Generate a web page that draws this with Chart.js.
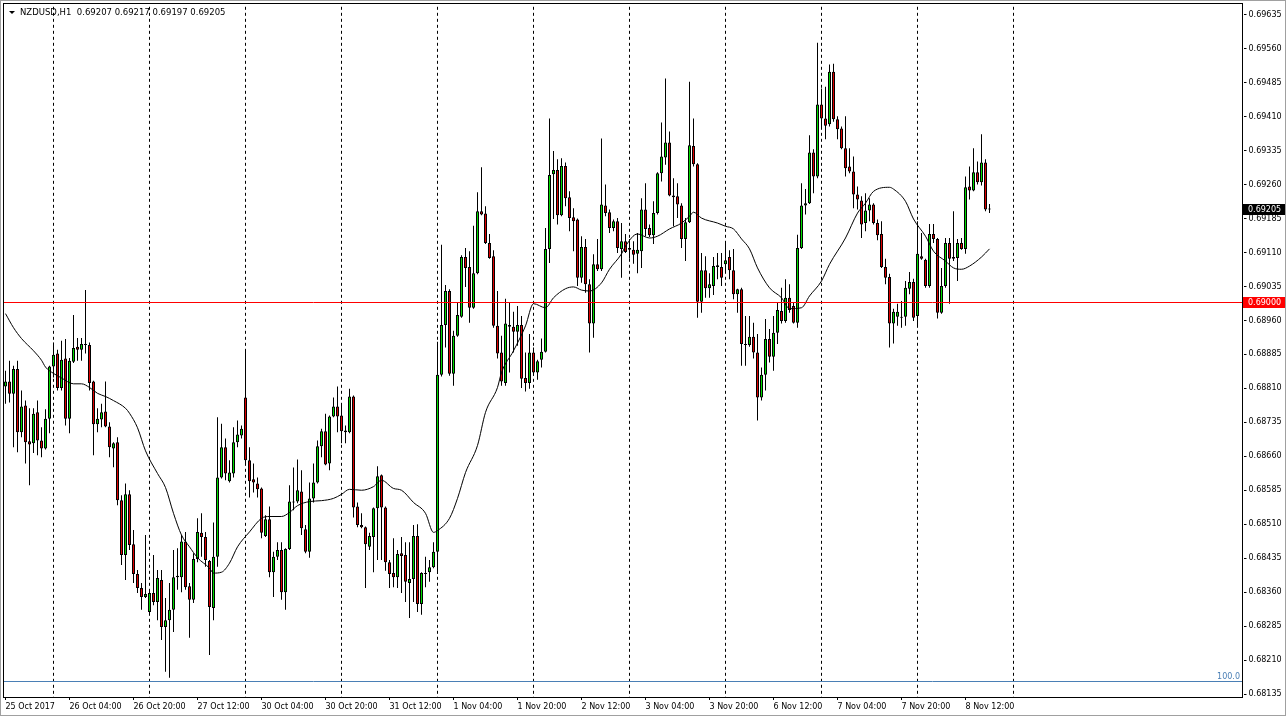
<!DOCTYPE html>
<html>
<head>
<meta charset="utf-8">
<title>NZDUSD,H1</title>
<script src="https://cdn.jsdelivr.net/npm/chart.js@4.4.1/dist/chart.umd.min.js"></script>
<style>
  html, body { margin: 0; padding: 0; background: #fff; }
  #wrap { width: 1287px; height: 720px; position: relative; }
</style>
</head>
<body>
<div id="wrap"><canvas id="chart" width="1287" height="720"></canvas></div>
<script>
// NZDUSD H1 candles, 25 Oct 2017 12:00 .. 8 Nov 2017 ~18:00

const symbol = 'NZDUSD,H1';
const sessionDays = ['25 Oct', '26 Oct', '27 Oct', '30 Oct', '31 Oct', '1 Nov', '2 Nov', '3 Nov',
  '6 Nov', '7 Nov', '8 Nov', '9 Nov', '10 Nov', '13 Nov'];
const firstHour = 12;
const slotCount = 310;
const lastSeparator = '9 Nov 00:00';
const firstDateLabel = '25 Oct 2017';
const xTickLabels = ['26 Oct 04:00', '26 Oct 20:00', '27 Oct 12:00', '30 Oct 04:00', '30 Oct 20:00',
  '31 Oct 12:00', '1 Nov 04:00', '1 Nov 20:00', '2 Nov 12:00', '3 Nov 04:00', '3 Nov 20:00',
  '6 Nov 12:00', '7 Nov 04:00', '7 Nov 20:00', '8 Nov 12:00'];
const yTicks = [0.69635, 0.69560, 0.69485, 0.69410, 0.69335, 0.69260, 0.69185, 0.69110, 0.69035,
  0.68960, 0.68885, 0.68810, 0.68735, 0.68660, 0.68585, 0.68510, 0.68435, 0.68360, 0.68285,
  0.68210, 0.68135];

const openP = [
  0.68814, 0.68825, 0.68798, 0.68853, 0.68713, 0.68772, 0.68693, 0.68689, 0.68757, 0.68695,
  0.68677, 0.68743, 0.68858, 0.68887, 0.68811, 0.68876, 0.68743, 0.68869, 0.68902, 0.68895,
  0.68908, 0.68906, 0.68825, 0.68731, 0.68741, 0.68759, 0.68726, 0.68677, 0.68691, 0.68563,
  0.68442, 0.68576, 0.68466, 0.68400, 0.68369, 0.68349, 0.68316, 0.68358, 0.68338, 0.68387,
  0.68283, 0.68298, 0.68321, 0.68393, 0.68393, 0.68472, 0.68373, 0.68343, 0.68433, 0.68491,
  0.68482, 0.68429, 0.68325, 0.68438, 0.68613, 0.68680, 0.68605, 0.68622, 0.68691, 0.68706,
  0.68790, 0.68651, 0.68609, 0.68600, 0.68589, 0.68484, 0.68521, 0.68404, 0.68438, 0.68453,
  0.68360, 0.68455, 0.68560, 0.68560, 0.68582, 0.68499, 0.68449, 0.68567, 0.68602, 0.68682,
  0.68715, 0.68644, 0.68748, 0.68770, 0.68750, 0.68717, 0.68713, 0.68792, 0.68549, 0.68508,
  0.68503, 0.68460, 0.68482, 0.68545, 0.68618, 0.68547, 0.68426, 0.68402, 0.68393, 0.68446,
  0.68442, 0.68380, 0.68389, 0.68484, 0.68334, 0.68402, 0.68404, 0.68415, 0.68449, 0.68840,
  0.68950, 0.69025, 0.68842, 0.68926, 0.68968, 0.69100, 0.69078, 0.68988, 0.69064, 0.69201,
  0.69196, 0.69131, 0.69102, 0.68948, 0.68889, 0.68822, 0.68950, 0.68946, 0.68935, 0.68950,
  0.68833, 0.68822, 0.68889, 0.68845, 0.68873, 0.68891, 0.69118, 0.69283, 0.69292, 0.69192,
  0.69301, 0.69232, 0.69188, 0.69183, 0.69054, 0.69122, 0.69040, 0.68953, 0.69084, 0.69073,
  0.69214, 0.69199, 0.69164, 0.69179, 0.69118, 0.69135, 0.69120, 0.69116, 0.69107, 0.69113,
  0.69205, 0.69164, 0.69148, 0.69197, 0.69285, 0.69320, 0.69353, 0.69236, 0.69234, 0.69214,
  0.69140, 0.69177, 0.69345, 0.69305, 0.69001, 0.69071, 0.69031, 0.69036, 0.69082, 0.69078,
  0.69084, 0.69100, 0.69071, 0.69018, 0.69029, 0.68908, 0.68906, 0.68924, 0.68889, 0.68790,
  0.68840, 0.68919, 0.68880, 0.68933, 0.68981, 0.68959, 0.69010, 0.68992, 0.68955, 0.69120,
  0.69214, 0.69219, 0.69331, 0.69278, 0.69437, 0.69406, 0.69393, 0.69509, 0.69404, 0.69384,
  0.69340, 0.69300, 0.69289, 0.69238, 0.69225, 0.69175, 0.69203, 0.69216, 0.69175, 0.69151,
  0.69078, 0.69056, 0.68953, 0.68968, 0.68968, 0.68968, 0.69030, 0.69045, 0.68970, 0.69102,
  0.69094, 0.69036, 0.69151, 0.69140, 0.68977, 0.69036, 0.69131, 0.69096, 0.69098, 0.69131,
  0.69118, 0.69256, 0.69247, 0.69287, 0.69265, 0.69309, 0.69207
];

const highP = [
  0.68849, 0.68871, 0.68860, 0.68871, 0.68805, 0.68783, 0.68766, 0.68766, 0.68783, 0.68724,
  0.68764, 0.68860, 0.68911, 0.68895, 0.68915, 0.68919, 0.68877, 0.68972, 0.68921, 0.68921,
  0.69027, 0.68911, 0.68827, 0.68766, 0.68776, 0.68825, 0.68735, 0.68691, 0.68702, 0.68574,
  0.68600, 0.68585, 0.68497, 0.68409, 0.68380, 0.68486, 0.68365, 0.68442, 0.68409, 0.68409,
  0.68347, 0.68380, 0.68453, 0.68457, 0.68486, 0.68493, 0.68380, 0.68446, 0.68523, 0.68534,
  0.68493, 0.68431, 0.68514, 0.68746, 0.68732, 0.68699, 0.68651, 0.68724, 0.68739, 0.68728,
  0.68893, 0.68680, 0.68644, 0.68613, 0.68591, 0.68530, 0.68549, 0.68449, 0.68470, 0.68470,
  0.68457, 0.68596, 0.68635, 0.68653, 0.68629, 0.68508, 0.68602, 0.68644, 0.68695, 0.68721,
  0.68754, 0.68750, 0.68790, 0.68814, 0.68776, 0.68728, 0.68809, 0.68794, 0.68558, 0.68534,
  0.68505, 0.68491, 0.68547, 0.68638, 0.68620, 0.68549, 0.68431, 0.68479, 0.68453, 0.68482,
  0.68470, 0.68470, 0.68508, 0.68510, 0.68404, 0.68438, 0.68431, 0.68470, 0.68913, 0.69127,
  0.69038, 0.69029, 0.68937, 0.68999, 0.69104, 0.69120, 0.69113, 0.69169, 0.69243, 0.69298,
  0.69212, 0.69151, 0.69115, 0.69025, 0.68926, 0.69008, 0.68999, 0.68979, 0.68992, 0.68970,
  0.68889, 0.68930, 0.68900, 0.68873, 0.68920, 0.69164, 0.69406, 0.69334, 0.69316, 0.69318,
  0.69309, 0.69245, 0.69208, 0.69185, 0.69146, 0.69140, 0.69051, 0.69106, 0.69140, 0.69362,
  0.69260, 0.69205, 0.69183, 0.69186, 0.69175, 0.69151, 0.69140, 0.69135, 0.69153, 0.69230,
  0.69263, 0.69172, 0.69223, 0.69287, 0.69397, 0.69494, 0.69377, 0.69274, 0.69263, 0.69219,
  0.69186, 0.69487, 0.69406, 0.69307, 0.69109, 0.69102, 0.69064, 0.69100, 0.69109, 0.69109,
  0.69131, 0.69115, 0.69118, 0.69030, 0.69032, 0.68970, 0.68970, 0.68955, 0.68930, 0.68856,
  0.68963, 0.68941, 0.68970, 0.68999, 0.69032, 0.69051, 0.69040, 0.68999, 0.69149, 0.69263,
  0.69250, 0.69369, 0.69338, 0.69573, 0.69472, 0.69476, 0.69525, 0.69527, 0.69411, 0.69388,
  0.69411, 0.69340, 0.69322, 0.69256, 0.69234, 0.69241, 0.69230, 0.69219, 0.69183, 0.69179,
  0.69096, 0.69063, 0.68986, 0.68997, 0.69003, 0.69047, 0.69067, 0.69052, 0.69179, 0.69153,
  0.69096, 0.69173, 0.69173, 0.69142, 0.69076, 0.69142, 0.69142, 0.69201, 0.69140, 0.69142,
  0.69278, 0.69300, 0.69340, 0.69311, 0.69371, 0.69316, 0.69217
];

const lowP = [
  0.68776, 0.68779, 0.68680, 0.68669, 0.68702, 0.68644, 0.68596, 0.68667, 0.68662, 0.68658,
  0.68675, 0.68711, 0.68834, 0.68805, 0.68805, 0.68728, 0.68711, 0.68866, 0.68871, 0.68871,
  0.68887, 0.68805, 0.68662, 0.68713, 0.68724, 0.68724, 0.68658, 0.68636, 0.68552, 0.68420,
  0.68387, 0.68453, 0.68380, 0.68358, 0.68321, 0.68347, 0.68312, 0.68331, 0.68298, 0.68254,
  0.68184, 0.68171, 0.68272, 0.68365, 0.68360, 0.68365, 0.68259, 0.68336, 0.68426, 0.68438,
  0.68416, 0.68221, 0.68298, 0.68416, 0.68611, 0.68607, 0.68602, 0.68613, 0.68680, 0.68699,
  0.68640, 0.68569, 0.68580, 0.68569, 0.68479, 0.68482, 0.68393, 0.68349, 0.68431, 0.68343,
  0.68321, 0.68453, 0.68541, 0.68556, 0.68486, 0.68446, 0.68436, 0.68558, 0.68600, 0.68658,
  0.68640, 0.68629, 0.68746, 0.68713, 0.68689, 0.68689, 0.68711, 0.68525, 0.68503, 0.68501,
  0.68369, 0.68453, 0.68404, 0.68431, 0.68431, 0.68407, 0.68369, 0.68371, 0.68369, 0.68358,
  0.68338, 0.68303, 0.68338, 0.68316, 0.68310, 0.68371, 0.68383, 0.68413, 0.68400, 0.68836,
  0.68900, 0.68838, 0.68816, 0.68924, 0.68966, 0.69034, 0.68955, 0.68986, 0.69062, 0.69192,
  0.69129, 0.69096, 0.68944, 0.68876, 0.68816, 0.68816, 0.68845, 0.68889, 0.68904, 0.68811,
  0.68803, 0.68809, 0.68838, 0.68829, 0.68856, 0.68889, 0.69087, 0.69184, 0.69172, 0.69190,
  0.69212, 0.69157, 0.69113, 0.69036, 0.69043, 0.69021, 0.68889, 0.68922, 0.69069, 0.69069,
  0.69190, 0.69153, 0.69157, 0.69109, 0.69054, 0.69109, 0.69096, 0.69085, 0.69064, 0.69076,
  0.69146, 0.69144, 0.69129, 0.69194, 0.69267, 0.69304, 0.69234, 0.69168, 0.69186, 0.69120,
  0.69091, 0.69175, 0.69300, 0.68966, 0.68977, 0.69010, 0.69010, 0.69016, 0.69051, 0.69036,
  0.69065, 0.69051, 0.69007, 0.68977, 0.68860, 0.68860, 0.68902, 0.68876, 0.68739, 0.68783,
  0.68805, 0.68867, 0.68849, 0.68908, 0.68953, 0.68955, 0.68977, 0.68953, 0.68944, 0.69118,
  0.69194, 0.69217, 0.69241, 0.69274, 0.69384, 0.69360, 0.69388, 0.69399, 0.69360, 0.69338,
  0.69278, 0.69285, 0.69208, 0.69205, 0.69142, 0.69157, 0.69179, 0.69172, 0.69137, 0.69076,
  0.69040, 0.68900, 0.68909, 0.68948, 0.68944, 0.68948, 0.69018, 0.68959, 0.68948, 0.69094,
  0.69032, 0.69032, 0.69131, 0.68964, 0.68975, 0.69032, 0.68997, 0.69091, 0.69047, 0.69116,
  0.69107, 0.69227, 0.69245, 0.69260, 0.69258, 0.69201, 0.69197
];

const closeP = [
  0.68825, 0.68798, 0.68853, 0.68713, 0.68770, 0.68691, 0.68686, 0.68754, 0.68695, 0.68677,
  0.68743, 0.68858, 0.68884, 0.68811, 0.68873, 0.68743, 0.68871, 0.68899, 0.68895, 0.68908,
  0.68906, 0.68822, 0.68731, 0.68743, 0.68757, 0.68726, 0.68680, 0.68689, 0.68563, 0.68442,
  0.68576, 0.68464, 0.68400, 0.68369, 0.68349, 0.68356, 0.68358, 0.68338, 0.68391, 0.68283,
  0.68298, 0.68321, 0.68393, 0.68396, 0.68472, 0.68371, 0.68343, 0.68433, 0.68493, 0.68482,
  0.68431, 0.68327, 0.68438, 0.68613, 0.68680, 0.68622, 0.68624, 0.68691, 0.68708, 0.68721,
  0.68651, 0.68605, 0.68602, 0.68587, 0.68491, 0.68521, 0.68404, 0.68438, 0.68453, 0.68360,
  0.68455, 0.68560, 0.68558, 0.68585, 0.68501, 0.68449, 0.68567, 0.68602, 0.68682, 0.68715,
  0.68642, 0.68748, 0.68770, 0.68748, 0.68715, 0.68713, 0.68792, 0.68547, 0.68508, 0.68503,
  0.68466, 0.68484, 0.68545, 0.68616, 0.68547, 0.68426, 0.68400, 0.68393, 0.68444, 0.68440,
  0.68383, 0.68389, 0.68484, 0.68334, 0.68402, 0.68400, 0.68415, 0.68449, 0.68840, 0.68950,
  0.69025, 0.68842, 0.68926, 0.68972, 0.69100, 0.69076, 0.68988, 0.69064, 0.69201, 0.69194,
  0.69131, 0.69098, 0.68948, 0.68887, 0.68825, 0.68953, 0.68946, 0.68935, 0.68950, 0.68831,
  0.68822, 0.68889, 0.68845, 0.68870, 0.68891, 0.69118, 0.69281, 0.69292, 0.69192, 0.69301,
  0.69230, 0.69186, 0.69179, 0.69054, 0.69122, 0.69040, 0.68953, 0.69084, 0.69073, 0.69216,
  0.69197, 0.69164, 0.69179, 0.69120, 0.69135, 0.69111, 0.69116, 0.69105, 0.69116, 0.69205,
  0.69162, 0.69148, 0.69197, 0.69285, 0.69322, 0.69353, 0.69236, 0.69232, 0.69216, 0.69140,
  0.69177, 0.69347, 0.69305, 0.69001, 0.69071, 0.69031, 0.69040, 0.69080, 0.69078, 0.69054,
  0.69093, 0.69071, 0.69018, 0.69029, 0.68908, 0.68906, 0.68924, 0.68889, 0.68790, 0.68840,
  0.68919, 0.68880, 0.68933, 0.68983, 0.68959, 0.69010, 0.68983, 0.68955, 0.69120, 0.69214,
  0.69219, 0.69331, 0.69278, 0.69437, 0.69406, 0.69390, 0.69509, 0.69404, 0.69382, 0.69340,
  0.69296, 0.69289, 0.69238, 0.69227, 0.69172, 0.69203, 0.69216, 0.69175, 0.69148, 0.69078,
  0.69054, 0.68953, 0.68979, 0.68979, 0.68966, 0.69032, 0.69045, 0.68966, 0.69107, 0.69096,
  0.69036, 0.69151, 0.69140, 0.68977, 0.69036, 0.69131, 0.69096, 0.69100, 0.69131, 0.69118,
  0.69254, 0.69247, 0.69287, 0.69265, 0.69309, 0.69205, 0.69205
];

// moving average line, read at every few bars: [bar number, value]
const maPoints = [
  [0, 0.68975], [2, 0.68944], [4, 0.68920], [7, 0.68893], [9, 0.68872], [10, 0.68857],
  [12, 0.68843], [14, 0.68833], [17, 0.68820], [19, 0.68820], [21, 0.68812], [23, 0.68799],
  [25, 0.68792], [27, 0.68783], [30, 0.68766], [31, 0.68755], [33, 0.68723], [35, 0.68672],
  [38, 0.68622], [40, 0.68591], [42, 0.68534], [44, 0.68486], [46, 0.68460], [48, 0.68436],
  [51, 0.68413], [52, 0.68402], [54, 0.68404], [56, 0.68424], [58, 0.68460], [61, 0.68493],
  [64, 0.68523], [66, 0.68527], [69, 0.68527], [71, 0.68536], [73, 0.68551], [76, 0.68560],
  [79, 0.68562], [82, 0.68567], [84, 0.68576], [86, 0.68587], [89, 0.68585], [92, 0.68593],
  [94, 0.68607], [97, 0.68589], [99, 0.68585], [102, 0.68558], [105, 0.68534], [107, 0.68492],
  [108, 0.68496], [111, 0.68523], [113, 0.68567], [115, 0.68624], [118, 0.68684], [120, 0.68757],
  [123, 0.68812], [124, 0.68845], [127, 0.68893], [130, 0.68948], [132, 0.68997], [135, 0.68988],
  [137, 0.69010], [140, 0.69030], [142, 0.69034], [144, 0.69027], [146, 0.69025], [149, 0.69043],
  [151, 0.69073], [154, 0.69107], [155, 0.69124], [158, 0.69151], [161, 0.69142], [163, 0.69146],
  [166, 0.69162], [169, 0.69175], [171, 0.69190], [172, 0.69199], [174, 0.69186], [178, 0.69175],
  [180, 0.69168], [182, 0.69162], [184, 0.69140], [186, 0.69118], [188, 0.69076], [191, 0.69032],
  [194, 0.69010], [196, 0.68986], [199, 0.68988], [201, 0.69014], [204, 0.69047], [206, 0.69084],
  [210, 0.69142], [213, 0.69197], [215, 0.69219], [217, 0.69245], [221, 0.69254], [222, 0.69250],
  [225, 0.69223], [227, 0.69184], [230, 0.69146], [232, 0.69113], [235, 0.69091], [237, 0.69076],
  [239, 0.69073], [241, 0.69080], [244, 0.69100], [246, 0.69118]
];

const levelPrice = 0.69000;
const fiboPrice = 0.68164;
const fiboLabel = '100.0';

const COLORS = {
  bull: '#00dc00',
  bear: '#dc0000',
  ink: '#000000',
  level: '#ff0000',
  fibo: '#4a7fb5',
  frame: '#a0a0a0'
};
const FONT = '"DejaVu Sans", Verdana, sans-serif';

// category axis: one slot per hour, trading days only
const hourLabels = [];
for (let d = 0; hourLabels.length < slotCount; d++) {
  for (let h = d === 0 ? firstHour : 0; h < 24 && hourLabels.length < slotCount; h++) {
    hourLabels.push(`${sessionDays[d]} ${String(h).padStart(2, '0')}:00`);
  }
}
const lastSeparatorIndex = hourLabels.indexOf(lastSeparator);

const bodies = openP.map((o, i) => [o, closeP[i]]);
const wicks = lowP.map((l, i) => [l, highP[i]]);
const bodyColors = openP.map((o, i) => closeP[i] >= o ? COLORS.bull : COLORS.bear);
const maSeries = hourLabels.map(() => null);
maPoints.forEach(([i, v]) => { maSeries[i] = v; });

function isDayStart(i) {
  return i <= lastSeparatorIndex && (hourLabels[i] || '').endsWith(' 00:00');
}
function isLabelTick(i) { return i === 0 || xTickLabels.includes(hourLabels[i]); }

function priceBox(ctx, yPix, text, bg) {
  ctx.fillStyle = bg;
  ctx.fillRect(1243, Math.round(yPix) - 5, 42, 11);
  ctx.fillStyle = '#ffffff';
  ctx.textAlign = 'left';
  ctx.textBaseline = 'middle';
  ctx.fillText(text, 1248, Math.round(yPix) + 0.5);
}

const overlay = {
  id: 'overlay',
  afterDatasetsDraw(chart) {
    const { ctx } = chart;
    const y = chart.scales.y;
    ctx.save();
    ctx.lineWidth = 1;
    const ly = Math.round(y.getPixelForValue(levelPrice)) + 0.5;
    ctx.strokeStyle = COLORS.level;
    ctx.beginPath(); ctx.moveTo(4, ly); ctx.lineTo(1242, ly); ctx.stroke();

    const fy = Math.round(y.getPixelForValue(fiboPrice)) + 0.5;
    ctx.strokeStyle = COLORS.fibo;
    ctx.beginPath(); ctx.moveTo(4, fy); ctx.lineTo(1242, fy); ctx.stroke();
    ctx.fillStyle = COLORS.fibo;
    ctx.font = `8px ${FONT}`;
    ctx.textAlign = 'right';
    ctx.textBaseline = 'bottom';
    ctx.fillText(fiboLabel, 1240, fy - 1);
    ctx.restore();
  },
  afterDraw(chart) {
    const { ctx } = chart;
    const y = chart.scales.y;
    const last = closeP.length - 1;
    ctx.save();
    // window and chart frames
    ctx.lineWidth = 1;
    ctx.strokeStyle = COLORS.frame;
    ctx.strokeRect(0.5, 0.5, 1285, 715);
    ctx.strokeStyle = COLORS.ink;
    ctx.strokeRect(3.5, 3.5, 1239, 694);

    // header
    ctx.fillStyle = COLORS.ink;
    ctx.beginPath(); ctx.moveTo(9, 11); ctx.lineTo(15, 11); ctx.lineTo(12, 14); ctx.closePath(); ctx.fill();
    ctx.font = `8.5px ${FONT}`;
    ctx.textAlign = 'left';
    ctx.textBaseline = 'middle';
    const head = `${symbol}  ${openP[last].toFixed(5)} ${highP[last].toFixed(5)} ${lowP[last].toFixed(5)} ${closeP[last].toFixed(5)}`;
    ctx.fillText(head, 20, 13);

    // price labels on the axis
    ctx.font = `8px ${FONT}`;
    priceBox(ctx, y.getPixelForValue(closeP[last]), closeP[last].toFixed(5), '#000000');
    priceBox(ctx, y.getPixelForValue(levelPrice), levelPrice.toFixed(5), COLORS.level);
    ctx.restore();
  }
};

Chart.defaults.font.family = FONT;
Chart.defaults.font.size = 8;
Chart.defaults.color = COLORS.ink;

new Chart(document.getElementById('chart'), {
  type: 'bar',
  data: {
    labels: hourLabels,
    datasets: [
      {
        type: 'line', label: 'MA', data: maSeries, order: 0,
        borderColor: COLORS.ink, borderWidth: 1, pointRadius: 0,
        spanGaps: true, cubicInterpolationMode: 'monotone'
      },
      {
        label: 'body', data: bodies, order: 1, grouped: false,
        backgroundColor: bodyColors, borderColor: COLORS.ink, borderWidth: 1,
        borderSkipped: false, barThickness: 3, inflateAmount: 0
      },
      {
        label: 'wick', data: wicks, order: 2, grouped: false,
        backgroundColor: COLORS.ink, borderWidth: 0, barThickness: 1, inflateAmount: 0
      }
    ]
  },
  options: {
    responsive: false,
    animation: false,
    devicePixelRatio: 1,
    layout: { padding: { left: 3.5, top: 5, right: 0, bottom: 0 } },
    plugins: { legend: { display: false }, tooltip: { enabled: false } },
    scales: {
      x: {
        offset: true,
        grid: {
          offset: false,
          lineWidth: 1,
          color: c => isDayStart(c.index) ? COLORS.ink : 'rgba(0,0,0,0)',
          drawTicks: true,
          tickLength: 3,
          tickColor: c => isLabelTick(c.index) ? COLORS.ink : 'rgba(0,0,0,0)'
        },
        border: { display: false, dash: [3, 3] },
        ticks: {
          autoSkip: false, maxRotation: 0, minRotation: 0, align: 'start', padding: 2,
          color: COLORS.ink, font: { size: 8 },
          callback: (v, i) => i === 0 ? firstDateLabel : (xTickLabels.includes(hourLabels[i]) ? hourLabels[i] : '')
        },
        afterFit: s => { s.height = 23; }
      },
      y: {
        position: 'right',
        min: 0.681284,
        max: 0.696526,
        grid: { drawOnChartArea: false, drawTicks: true, tickLength: 3, color: COLORS.ink },
        border: { display: false },
        ticks: { padding: 2, color: COLORS.ink, font: { size: 8 }, callback: v => Number(v).toFixed(5) },
        afterBuildTicks: s => { s.ticks = yTicks.map(v => ({ value: v })); },
        afterFit: s => { s.width = 43.5; }
      }
    }
  },
  plugins: [overlay]
});
</script>
</body>
</html>
